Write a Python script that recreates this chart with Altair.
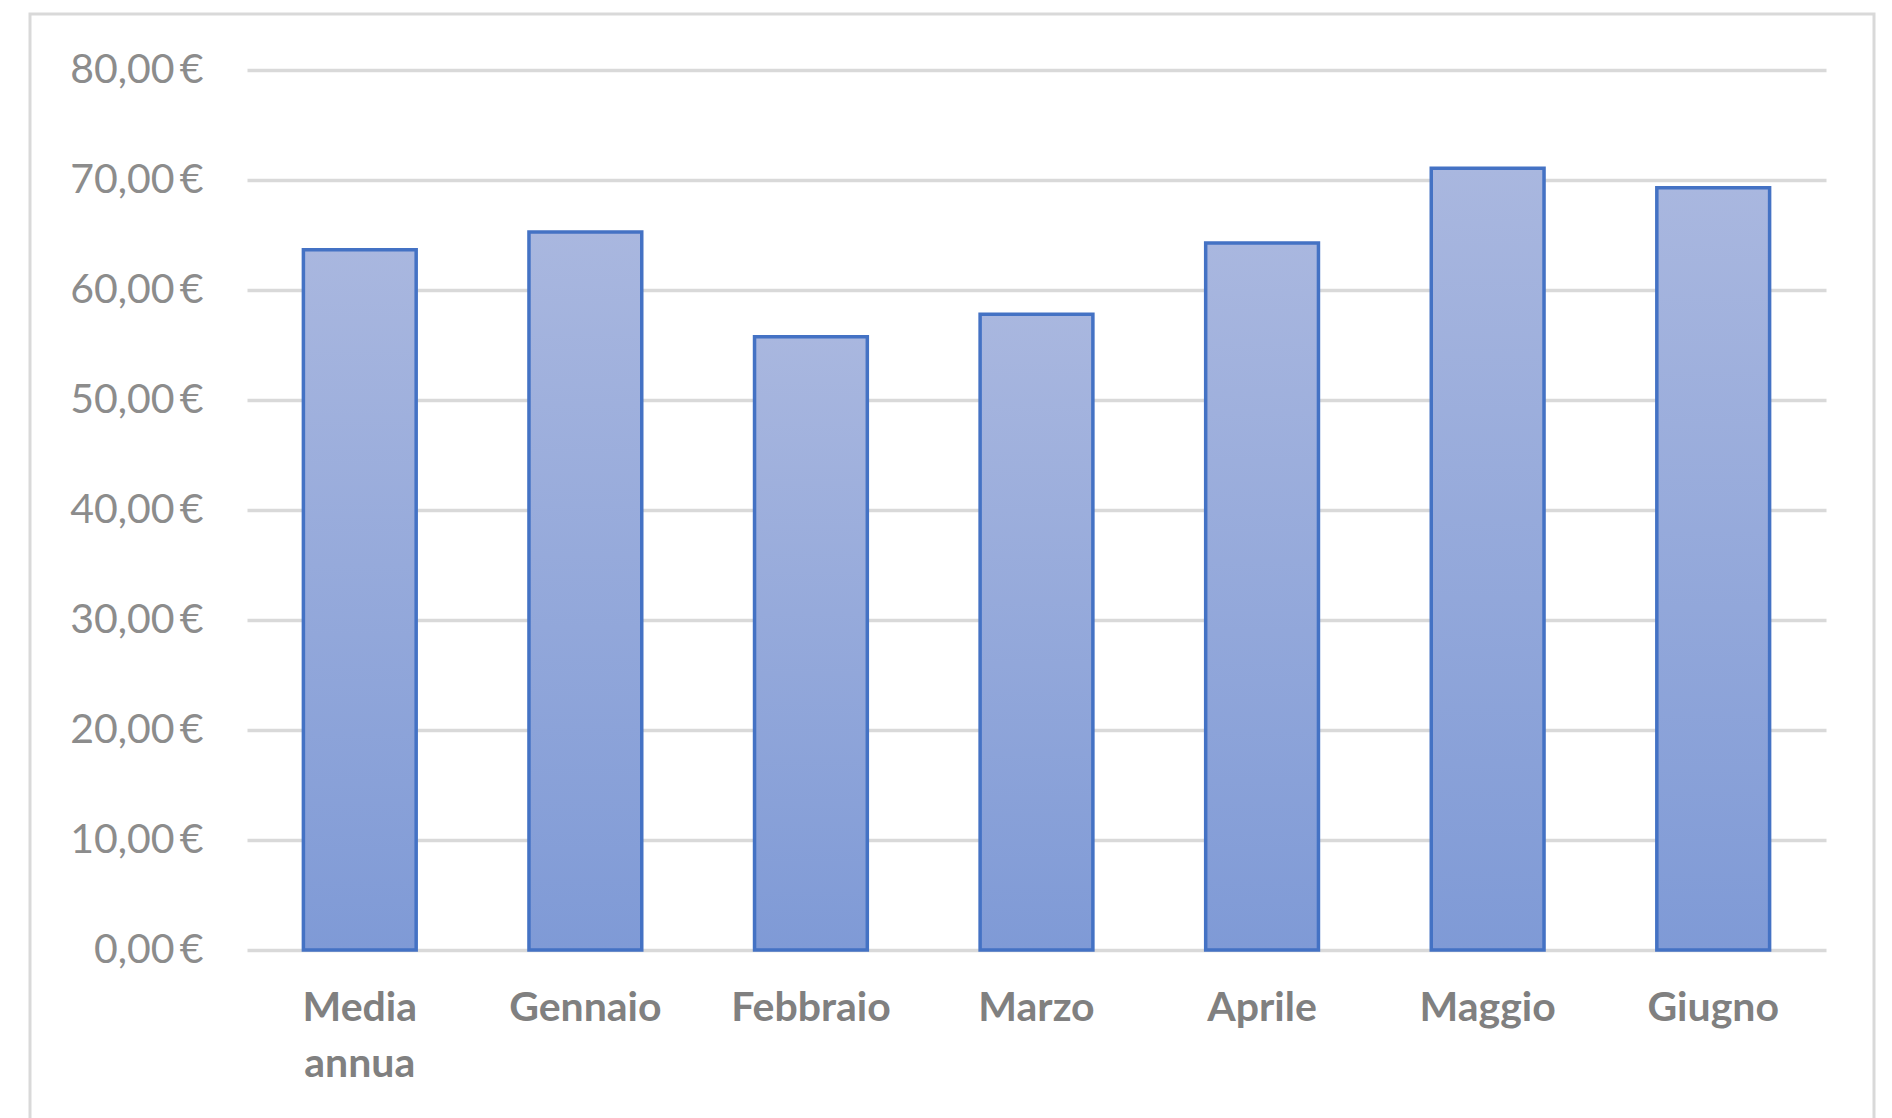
import altair as alt
import pandas as pd

categories = ["Media annua", "Gennaio", "Febbraio", "Marzo", "Aprile", "Maggio", "Giugno"]
values = [63.67, 65.27, 55.76, 57.80, 64.28, 71.07, 69.30]
y_ticks = [0, 10, 20, 30, 40, 50, 60, 70, 80]

df = pd.DataFrame({"mese": categories, "prezzo": values})

grad = alt.Gradient(
    gradient="linear",
    stops=[alt.GradientStop(color="#a9b7df", offset=0),
           alt.GradientStop(color="#7f9ad6", offset=1)],
    x1=0, x2=0, y1=0, y2=1,
)

frame = alt.Chart(pd.DataFrame({"f": [0]})).mark_rect(
    fill="transparent", stroke="#d9d9d9", strokeWidth=3, clip=False
).encode(
    x=alt.value(-217), x2=alt.value(1627), y=alt.value(-56), y2=alt.value(1100)
)

bars = alt.Chart(df).mark_bar(
    color=grad, stroke="#4472c4", strokeWidth=3.5
).encode(
    x=alt.X("mese:N", sort=categories, title=None,
            scale=alt.Scale(paddingInner=0.5, paddingOuter=0.25),
            axis=alt.Axis(labelAngle=0, ticks=False, domain=False, grid=False,
                          labelFont="Lato", labelFontWeight="bold", labelFontSize=41,
                          labelColor="#808080", labelPadding=38, labelLineHeight=56,
                          labelBaseline="top",
                          labelExpr="datum.label == 'Media annua' ? ['Media', 'annua'] : datum.label")),
    y=alt.Y("prezzo:Q", title=None,
            scale=alt.Scale(domain=[0, 80], nice=False),
            axis=alt.Axis(values=y_ticks, ticks=False, domain=False, grid=True,
                          gridColor="#d9d9d9", gridWidth=3.5,
                          labelFont="Lato", labelFontSize=41, labelColor="#8c8c8c",
                          labelPadding=44,
                          labelExpr="replace(format(datum.value, '.2f'), '.', ',') + '\u2009€'")),
)

chart = alt.layer(frame, bars).properties(
    width=1579, height=880,
    autosize=alt.AutoSizeParams(type="none"),
    padding={"left": 239, "top": 62, "right": 58, "bottom": 180},
).configure(background="white").configure_view(strokeWidth=0, stroke="transparent")

chart.save("out.html", embed_options={"renderer": "svg", "actions": False})
